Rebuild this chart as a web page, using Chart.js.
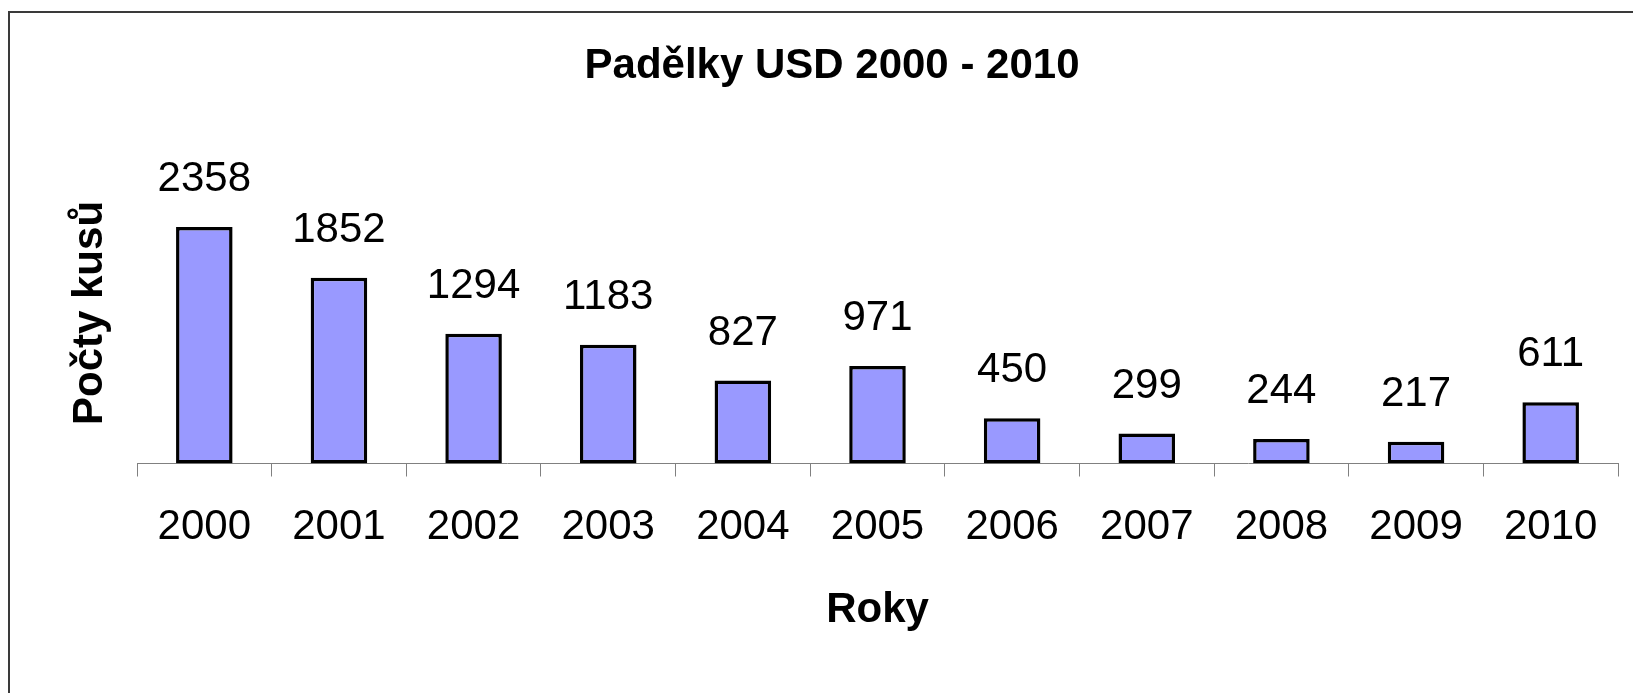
<!DOCTYPE html>
<html>
<head>
<meta charset="utf-8">
<script src="https://cdn.jsdelivr.net/npm/chart.js@4/dist/chart.umd.min.js"></script>
<style>
    body { margin: 0; background: #fff; }
    #wrap { position: relative; width: 1633px; height: 693px; }
    #frame {
        position: absolute; left: 8px; top: 11px; right: 0; bottom: 0;
        border-top: 2px solid #3a3a3a; border-left: 2px solid #3a3a3a;
        pointer-events: none;
    }
</style>
</head>
<body>
<div id="wrap">
    <canvas id="chart" width="1633" height="693"></canvas>
    <div id="frame"></div>
</div>
<script>
const years = ['2000', '2001', '2002', '2003', '2004', '2005', '2006', '2007', '2008', '2009', '2010'];
const counts = [2358, 1852, 1294, 1183, 827, 971, 450, 299, 244, 217, 611];
const yMax = 3000;

const fontFamily = '"Liberation Sans", Arial, sans-serif';

// Excel style value labels above each bar
const valueLabels = {
    id: 'valueLabels',
    afterDatasetsDraw(chart) {
        const ctx = chart.ctx;
        const meta = chart.getDatasetMeta(0);
        ctx.save();
        ctx.font = `42px ${fontFamily}`;
        ctx.fillStyle = '#000';
        ctx.textAlign = 'center';
        ctx.textBaseline = 'alphabetic';
        meta.data.forEach((bar, i) => {
            ctx.fillText(String(counts[i]), bar.x, bar.y - 36);
        });
        ctx.restore();
    }
};

const ctx = document.getElementById('chart').getContext('2d');

const myChart = new Chart(ctx, {
    type: 'bar',
    data: {
        labels: years,
        datasets: [{
            label: 'Počty kusů',
            data: counts,
            backgroundColor: '#9999FF',
            borderColor: '#000000',
            borderWidth: 3.5,
            borderSkipped: false,
            barPercentage: 0.42,
            categoryPercentage: 1.0
        }]
    },
    options: {
        responsive: false,
        animation: false,
        layout: {
            padding: { left: 46, right: 15, top: 0, bottom: 0 }
        },
        plugins: {
            legend: { display: false },
            tooltip: { enabled: false },
            title: {
                display: true,
                text: 'Padělky USD 2000 - 2010',
                color: '#000',
                font: { family: fontFamily, size: 42, weight: 'bold', lineHeight: 1.2 },
                padding: { top: 40.8, bottom: 71.3 }
            }
        },
        scales: {
            x: {
                grid: {
                    display: true,
                    drawOnChartArea: false,
                    drawTicks: true,
                    tickLength: 13,
                    color: '#808080'
                },
                border: { display: true, color: '#808080', width: 1 },
                ticks: {
                    color: '#000',
                    padding: 26,
                    maxRotation: 0,
                    autoSkip: false,
                    font: { family: fontFamily, size: 42, lineHeight: 1.2 }
                },
                title: {
                    display: true,
                    text: 'Roky',
                    color: '#000',
                    font: { family: fontFamily, size: 42, weight: 'bold', lineHeight: 1.2 },
                    padding: { top: 5.9, bottom: 57.8 }
                }
            },
            y: {
                min: 0,
                max: yMax,
                ticks: { display: false },
                grid: { display: false, drawTicks: false },
                border: { display: false },
                title: {
                    display: true,
                    text: 'Počty kusů',
                    color: '#000',
                    font: { family: fontFamily, size: 42, weight: 'bold', lineHeight: 1.2 },
                    padding: { top: 18.8, bottom: 21.8 }
                }
            }
        }
    },
    plugins: [valueLabels]
});
</script>
</body>
</html>
